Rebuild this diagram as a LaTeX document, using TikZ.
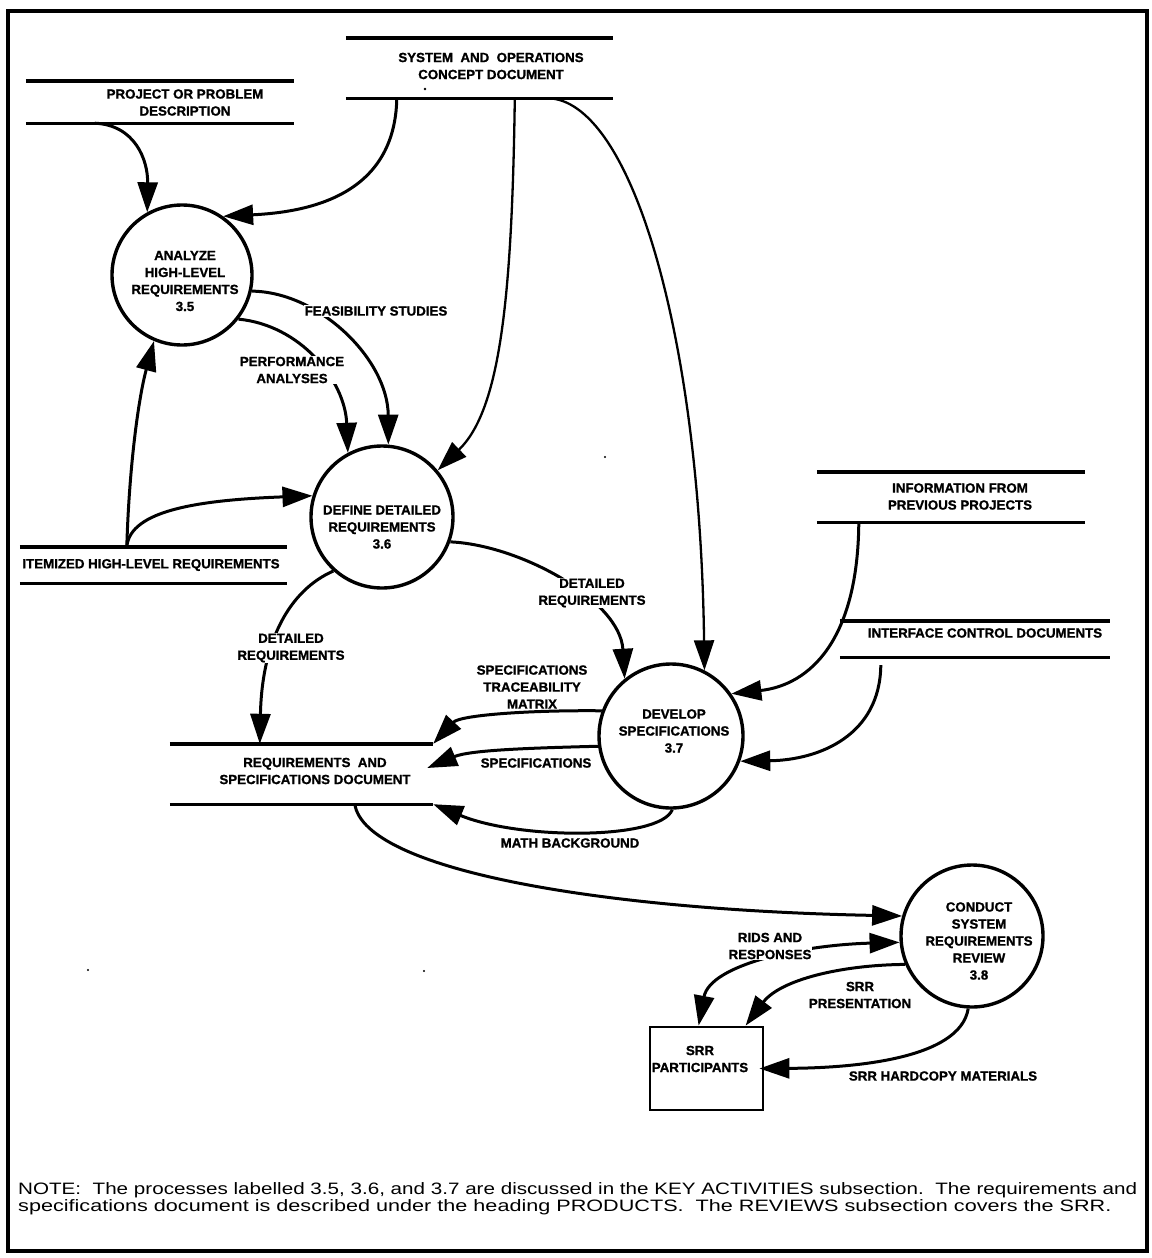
\documentclass[tikz,border=0pt]{standalone}
\usepackage{fontspec}
\setmainfont{Liberation Sans}
\newfontfamily\lblfont[FakeBold=1.2]{Liberation Sans Bold}
\usetikzlibrary{arrows.meta,calc}
\begin{document}
\begin{tikzpicture}[x=1pt,y=-1pt,
  lbl/.style={font=\lblfont\fontsize{13.3}{17}\selectfont, align=center, inner sep=1pt},
  lblw/.style={lbl, fill=white},
  proc/.style={circle, draw, line width=3.4pt, inner sep=0pt},
  store/.style={inner sep=0pt, draw=none},
  sline/.style={line width=3.4pt},
  flow/.style={line width=3pt, -{Triangle[length=30pt,width=20pt]}},
  thinflow/.style={flow, line width=2.3pt},
  twoway/.style={line width=3pt, {Triangle[length=30pt,width=20pt]}-{Triangle[length=30pt,width=20pt]}}]
\useasboundingbox (0,0) rectangle (1151,1258);
\draw[line width=4.5pt] (8,11) rectangle (1147,1251);

% stores
\node[store, minimum width=267pt, minimum height=60pt] (sys) at (479.5,68) {};
\node[store, minimum width=268pt, minimum height=42pt] (proj) at (160,102) {};
\node[store, minimum width=267pt, minimum height=36pt] (item) at (153.5,565) {};
\node[store, minimum width=263pt, minimum height=60pt] (req) at (301.5,774) {};
\node[store, minimum width=268pt, minimum height=50pt] (info) at (951,497) {};
\node[store, minimum width=270pt, minimum height=36pt] (icd) at (975,639) {};
\foreach \s in {sys,proj,item,req,info,icd}{
  \draw[sline] (\s.north west) -- (\s.north east) (\s.south west) -- (\s.south east);
}
\node[lbl] (sysT) at (491,66) {SYSTEM\ \ AND\ \ OPERATIONS\\CONCEPT DOCUMENT};
\fill (425,89) circle (1.4);
\node[lbl] (projT) at (185,102.5) {PROJECT OR PROBLEM\\DESCRIPTION};
\node[lbl] (itemT) at (151,565) {ITEMIZED HIGH-LEVEL REQUIREMENTS};
\node[lbl] (reqT) at (315,771) {REQUIREMENTS\ \ AND\\SPECIFICATIONS DOCUMENT};
\node[lbl] (infoT) at (960,496.5) {INFORMATION FROM\\PREVIOUS PROJECTS};
\node[lbl] (icdT) at (985,633) {INTERFACE CONTROL DOCUMENTS};

% processes
\node[proc, minimum size=140pt] (p35) at (182,275) {};
\node[lbl] (p35t) at (185,281) {ANALYZE\\HIGH-LEVEL\\REQUIREMENTS\\3.5};
\node[proc, minimum size=142pt] (p36) at (382,517) {};
\node[lbl] (p36t) at (382,527) {DEFINE DETAILED\\REQUIREMENTS\\3.6};
\node[proc, minimum size=144pt] (p37) at (671,736) {};
\node[lbl] (p37t) at (674,731) {DEVELOP\\SPECIFICATIONS\\3.7};
\node[proc, minimum size=142pt] (p38) at (972,936) {};
\node[lbl] (p38t) at (979,941) {CONDUCT\\SYSTEM\\REQUIREMENTS\\REVIEW\\3.8};

% terminator
\node[draw, line width=2.8pt, minimum width=113pt, minimum height=83pt, inner sep=0pt] (srr) at (706.5,1068.5) {};
\node[lbl] (srrT) at (700,1059) {SRR\\PARTICIPANTS};

% flows
\coordinate (itemJ) at ([xshift=107pt]item.north west);
\draw[flow] ([xshift=69pt]proj.south west) .. controls (135,125) and (148,160) .. (p35.119);
\draw[flow] ([xshift=51pt]sys.south west) .. controls (395,195) and (310,212) .. (p35.55);
\draw[flow] (itemJ) .. controls (129,470) and (138,400) .. (p35.247);
\draw[flow] (itemJ) .. controls (130,510) and (200,500) .. (p36.163);
\draw[flow] (p35.-13) .. controls (320,292) and (388,360) .. (p36.85);
\draw[flow] (p35.-38) .. controls (300,325) and (345,380) .. (p36.118);
\draw[thinflow] ([xshift=169pt]sys.south west) .. controls (512,300) and (500,410) .. (p36.40);
\draw[thinflow] ([xshift=202pt]sys.south west) .. controls (630,100) and (700,330) .. (p37.63);
\draw[flow] (p36.-20) .. controls (520,545) and (620,600) .. (p37.129);
\draw[flow] (p36.228) .. controls (290,590) and (262,640) .. ([xshift=90pt]req.north west);
\draw[flow] ([xshift=42pt]info.south west) .. controls (858,640) and (810,685) .. (p37.35);
\draw[flow] ([xshift=41pt,yshift=-8pt]icd.south west) .. controls (880,735) and (820,760) .. (p37.-20);
\draw[flow] (p37.160) .. controls (530,710) and (460,715) .. (req.north east);
\draw[flow] (p37.188) .. controls (530,748) and (470,750) .. ([xshift=-6pt,yshift=6pt]req.east);
\draw[flow] (p37.271) .. controls (660,840) and (520,840) .. (req.south east);
\draw[flow] ([xshift=185pt]req.south west) .. controls (365,870) and (600,910) .. (p38.164);
\draw[twoway] ([xshift=50pt]srr.north west) .. controls (710,965) and (800,945) .. (p38.185);
\draw[flow] (p38.203) .. controls (840,965) and (780,980) .. ([xshift=97pt]srr.north west);
\draw[flow] (p38.267) .. controls (960,1060) and (850,1068) .. ([xshift=-5pt]srr.east);

% flow labels
\node[lblw] (lFeas) at (376,311) {FEASIBILITY STUDIES};
\node[lblw] (lPerf) at (292,370) {PERFORMANCE\\ANALYSES};
\node[lblw] (lDet1) at (291,648) {DETAILED\\REQUIREMENTS};
\node[lblw] (lDet2) at (592,593) {DETAILED\\REQUIREMENTS};
\node[lbl] (lTrace) at (532,687) {SPECIFICATIONS\\TRACEABILITY\\MATRIX};
\node[lbl] (lSpec) at (536,763) {SPECIFICATIONS};
\node[lbl] (lMath) at (570,843) {MATH BACKGROUND};
\node[lblw] (lRids) at (770,946) {RIDS AND\\RESPONSES};
\node[lbl] (lPres) at (860,995) {SRR\\PRESENTATION};
\node[lbl] (lHard) at (943,1076) {SRR HARDCOPY MATERIALS};

% specks
\fill (605,457) circle (1.2);
\fill (88,970) circle (1.2);
\fill (424,971) circle (1.2);

% note
\node[anchor=west, inner sep=0pt, font=\fontsize{16.5}{17}\selectfont, align=left] (note) at (18,1199) {\scalebox{1.25}[1]{NOTE:\ \ The processes labelled 3.5, 3.6, and 3.7 are discussed in the KEY ACTIVITIES subsection.\ \ The requirements and}\\\scalebox{1.31}[1]{specifications document is described under the heading PRODUCTS.\ \ The REVIEWS subsection covers the SRR.}};
\end{tikzpicture}
\end{document}
